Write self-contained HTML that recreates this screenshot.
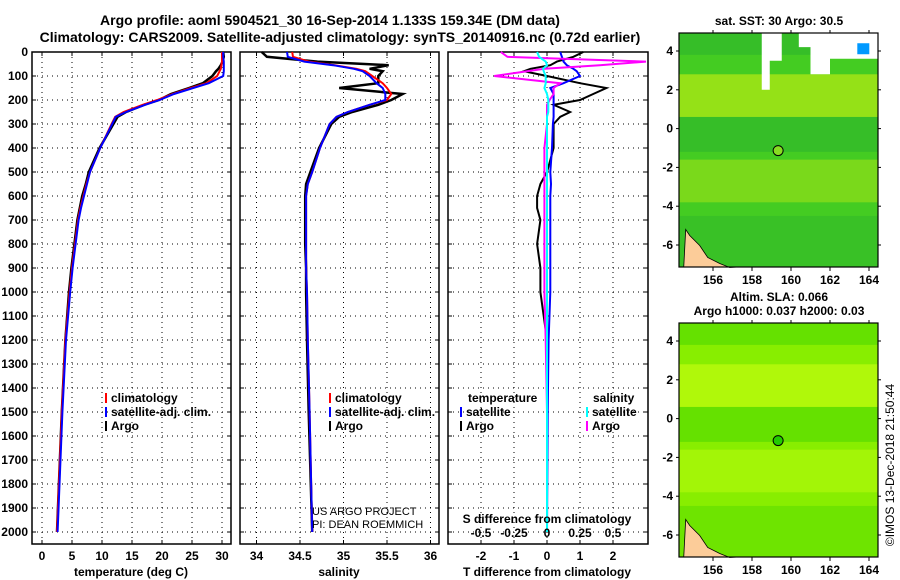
<!DOCTYPE html>
<html><head><meta charset="utf-8"><style>
html,body{margin:0;padding:0;background:#fff;}
svg{display:block;font-family:"Liberation Sans",Arial,sans-serif;font-weight:bold;}
</style></head><body>
<svg id="c" width="900" height="580" viewBox="0 0 900 580">
<text x="330" y="25" font-size="14" text-anchor="middle">Argo profile: aoml 5904521_30 16-Sep-2014 1.133S 159.34E (DM data)</text>
<text x="340" y="42" font-size="14" text-anchor="middle">Climatology: CARS2009. Satellite-adjusted climatology: synTS_20140916.nc (0.72d earlier)</text>
<g id="g"></g>
</svg>
<script>
const depth=[0,20,40,55,70,80,100,130,150,175,200,220,250,270,300,400,500,550,600,650,700,800,900,1000,1200,1500,2000];
const tempArgo=[30.2,30.3,30.1,29.8,29.4,29.0,28.4,26.8,24.5,21.5,19.5,17.0,14.0,12.6,11.9,9.6,7.8,7.3,6.7,6.3,5.9,5.4,4.9,4.5,3.9,3.3,2.5];
const tempClim=[30.0,30.0,30.0,29.9,29.8,29.6,29.2,27.4,24.8,21.8,19.2,16.8,13.6,12.2,11.6,9.7,8.0,7.4,6.9,6.4,6.0,5.5,5.0,4.6,3.9,3.3,2.5];
const tempSat=[30.2,30.2,30.3,30.3,30.3,30.3,30.2,27.8,25.2,22.0,19.6,17.2,14.0,12.3,11.7,9.7,8.0,7.5,7.0,6.5,6.1,5.6,5.1,4.7,4.0,3.4,2.6];
const salArgo=[34.06,34.12,34.70,35.52,35.30,35.45,35.40,35.40,34.95,35.68,35.55,35.40,35.10,34.95,34.86,34.72,34.62,34.57,34.56,34.56,34.56,34.56,34.57,34.57,34.58,34.60,34.64];
const salClim=[34.41,34.42,34.60,34.90,35.15,35.25,35.33,35.45,35.50,35.55,35.50,35.30,35.05,34.92,34.84,34.73,34.64,34.59,34.57,34.57,34.57,34.57,34.57,34.58,34.59,34.61,34.64];
const salSat=[34.35,34.36,34.55,34.88,35.12,35.22,35.30,35.38,35.45,35.48,35.48,35.30,35.05,34.92,34.84,34.73,34.64,34.59,34.57,34.57,34.57,34.57,34.57,34.58,34.59,34.61,34.64];
const tDiffSat=[0.4,0.45,0.5,0.6,0.8,0.9,1.0,0.5,0.1,0.2,0.2,0.2,0.2,0.2,0.18,0.15,0.1,0.12,0.1,0.1,0.1,0.1,0.1,0.1,0.05,0.02,0.0];
const tDiffArgo=[1.1,0.8,0.3,0.1,-0.5,-0.7,0.0,1.0,1.8,1.4,1.0,0.2,0.7,0.4,0.2,0.2,0.0,-0.2,-0.3,-0.3,-0.2,-0.3,-0.2,-0.2,0.0,0.0,0.0];
const sDiffSat=[-0.075,-0.06,-0.01,0.0,-0.03,-0.025,-0.01,-0.01,-0.02,0.0,0.01,0.01,0.01,0.0,0.0,0.0,0.0,0.0,0.0,0.0,0.0,0.0,0.0,0.0,0.0,0.0,0.0];
const sDiffArgo=[-0.35,-0.3,0.75,0.4,-0.02,-0.15,-0.4,0.1,0.05,0.05,0.02,0.0,0.0,0.0,0.0,-0.02,-0.02,-0.02,-0.02,-0.02,-0.02,-0.02,-0.02,-0.02,-0.01,0.0,0.0];
const depthTicks=[0,100,200,300,400,500,600,700,800,900,1000,1100,1200,1300,1400,1500,1600,1700,1800,1900,2000];
const tempTicks=[0,5,10,15,20,25,30];
const salTicks=[34,34.5,35,35.5,36];
const salTickLabels=["34","34.5","35","35.5","36"];
const tdTicks=[-2,-1,0,1,2];
const sdTicks=[-0.5,-0.25,0,0.25,0.5];
const sdLabels=["-0.5","-0.25","0","0.25","0.5"];
const lonTicks=[156,158,160,162,164];
const latTicks=[4,2,0,-2,-4,-6];
const floatLon=159.34, floatLat=-1.133;

const NS="http://www.w3.org/2000/svg";
const G=document.getElementById('g');
function mk(tag,attrs,parent,text){const e=document.createElementNS(NS,tag);for(const k in attrs)e.setAttribute(k,attrs[k]);if(text!==undefined)e.textContent=text;(parent||G).appendChild(e);return e;}
const yD=d=>52+d*0.24;
const PB=544;
const xT=t=>42+6*t;
const xS=s=>300+87*(s-34.5);
const xD=d=>547+33*d;
const xSD=s=>547+132*s;

function panel(name,x0,x1,xticksPx){
  const g=mk('g',{});
  
  
  xticksPx.forEach(x=>{mk('line',{x1:x,y1:52,x2:x,y2:PB,stroke:'#000','stroke-width':1,'stroke-dasharray':'1,4'},g);});
  depthTicks.forEach(d=>{const y=yD(d);mk('line',{x1:x0,y1:y,x2:x1,y2:y,stroke:'#000','stroke-width':1,'stroke-dasharray':'1,4'},g);
    mk('line',{x1:x0,y1:y,x2:x0+4,y2:y,stroke:'#000'},g);mk('line',{x1:x1-4,y1:y,x2:x1,y2:y,stroke:'#000'},g);});
  xticksPx.forEach(x=>{mk('line',{x1:x,y1:PB,x2:x,y2:PB-4,stroke:'#000'},g);mk('line',{x1:x,y1:52,x2:x,y2:56,stroke:'#000'},g);});
  mk('rect',{x:x0,y:52,width:x1-x0,height:PB-52,fill:'none',stroke:'#000','stroke-width':1.5},g);
  return g;
}
function line(g,xs,xf,color,name,w){
  const pts=depth.map((d,i)=>xf(xs[i]).toFixed(1)+','+yD(d).toFixed(1)).join(' ');
  const p=mk('polyline',{points:pts,fill:'none',stroke:color,'stroke-width':w||2},g);
  
  
}
depthTicks.forEach(d=>{const t=mk('text',{x:28,y:yD(d)+4,'font-size':12,'text-anchor':'end'},G,String(d));
  
  });

const p1=panel('temperature-panel',32,231,tempTicks.map(xT));
tempTicks.forEach(t=>{const e=mk('text',{x:xT(t),y:560,'font-size':12,'text-anchor':'middle'},G,String(t));
  
  });
line(p1,tempArgo,xT,'#000','temp-argo-line',2.5);
line(p1,tempClim,xT,'#f00','temp-clim-line');
line(p1,tempSat,xT,'#00f','temp-sat-line');
const p2=panel('salinity-panel',240,439,salTicks.map(xS));
salTicks.forEach((s,i)=>{const e=mk('text',{x:xS(s),y:560,'font-size':12,'text-anchor':'middle'},G,salTickLabels[i]);
  
  });
line(p2,salArgo,xS,'#000','sal-argo-line',2.5);
line(p2,salClim,xS,'#f00','sal-clim-line');
line(p2,salSat,xS,'#00f','sal-sat-line');
const p3=panel('difference-panel',448,648,tdTicks.map(xD));
tdTicks.forEach(t=>{const e=mk('text',{x:xD(t),y:560,'font-size':12,'text-anchor':'middle'},G,String(t));
  
  });
sdTicks.forEach((s,i)=>{const e=mk('text',{x:xSD(s),y:537,'font-size':12,'text-anchor':'middle'},G,sdLabels[i]);
  
  });
line(p3,tDiffArgo,xD,'#000','tdiff-argo-line');
line(p3,tDiffSat,xD,'#00f','tdiff-sat-line');
line(p3,sDiffArgo,xSD,'#f0f','sdiff-argo-line');
line(p3,sDiffSat,xSD,'#0ff','sdiff-sat-line');

function txt(x,y,s,name,size,anchor){const e=mk('text',{x:x,y:y,'font-size':size||12,'text-anchor':anchor||'start'},G,s);
  
  return e;}
txt(131,576,'temperature (deg C)','temp-axis-title',12,'middle');
txt(339,576,'salinity','sal-axis-title',12,'middle');
txt(547,576,'T difference from climatology','tdiff-axis-title',12,'middle');
txt(547,523,'S difference from climatology','sdiff-axis-title',12,'middle');
txt(312,515,'US ARGO PROJECT','credit-project',11).setAttribute('font-weight','normal');
txt(312,528,'PI: DEAN ROEMMICH','credit-pi',11).setAttribute('font-weight','normal');

function leg(x,y,color,label,name){const g=mk('g',{});
  
  
  mk('rect',{x:x,y:y-9,width:2,height:10,fill:color},g);mk('text',{x:x+6,y:y,'font-size':12},g,label);}
leg(105,402,'#f00','climatology','legend-clim');
leg(105,416,'#00f','satellite-adj. clim.','legend-sat');
leg(105,430,'#000','Argo','legend-argo');
leg(329,402,'#f00','climatology','legend2-clim');
leg(329,416,'#00f','satellite-adj. clim.','legend2-sat');
leg(329,430,'#000','Argo','legend2-argo');
txt(468,402,'temperature','legend3-temp-header',12);
txt(593,402,'salinity','legend3-sal-header',12);
leg(460,416,'#00f','satellite','legend3-tsat');
leg(460,430,'#000','Argo','legend3-targo');
leg(586,416,'#0ff','satellite','legend3-ssat');
leg(586,430,'#f0f','Argo','legend3-sargo');

const lonX=l=>713+19.5*(l-156);
function map(name,top,lat4y,pal,title1,title2){
  const g=mk('g',{});
  
  
  const latY=la=>lat4y+19.4*(4-la);
  const h=234;
  mk('rect',{x:679,y:top,width:199,height:h,fill:pal[0]},g);
  mk('rect',{x:679,y:latY(2.8),width:199,height:latY(0.6)-latY(2.8),fill:pal[1],opacity:0.6},g);
  mk('rect',{x:679,y:latY(-1.6),width:199,height:latY(-3.8)-latY(-1.6),fill:pal[1],opacity:0.4},g);
  mk('rect',{x:679,y:latY(0.6),width:199,height:latY(-1.2)-latY(0.6),fill:pal[2],opacity:0.4},g);
  mk('rect',{x:679,y:top,width:199,height:latY(3.8)-top,fill:pal[2],opacity:0.4},g);
  mk('rect',{x:679,y:latY(-4.5),width:199,height:top+h-latY(-4.5),fill:pal[2],opacity:0.3},g);
  if(pal[3]){
    mk('path',{d:`M${lonX(158.5)},${top} h20 v${latY(3.5)-top} h-12 v${latY(2)-latY(3.5)} h-8 z`,fill:'#fff'},g);
    mk('path',{d:`M${lonX(160.4)},${top} H878 V${latY(3.6)} H${lonX(162)} V${latY(2.8)} H${lonX(161)} V${latY(4.2)} H${lonX(160.4)} z`,fill:'#fff'},g);
    mk('rect',{x:lonX(163.4),y:latY(4.4),width:12,height:11,fill:'#0099ff'},g);
  }
  mk('path',{d:`M${lonX(154.6)},${latY(-5.2)} l4,6 l10,10 l8,12 l12,6 l10,4 L${lonX(157.3)},${top+h} L${lonX(154.5)},${top+h} z`,fill:'#fccc99',stroke:'#000','stroke-width':0.8},g);
  mk('circle',{cx:lonX(floatLon),cy:latY(floatLat),r:5,fill:pal[4],stroke:'#000','stroke-width':1},g);
  mk('rect',{x:679,y:top,width:199,height:h,fill:'none',stroke:'#000','stroke-width':1.2},g);
  lonTicks.forEach(l=>{mk('line',{x1:lonX(l),y1:top+h,x2:lonX(l),y2:top+h+4,stroke:'#000'},g);mk('line',{x1:lonX(l),y1:top,x2:lonX(l),y2:top-3,stroke:'#000'},g);
    mk('text',{x:lonX(l),y:top+h+17,'font-size':12,'text-anchor':'middle'},g,String(l));});
  latTicks.forEach(la=>{mk('line',{x1:676,y1:latY(la),x2:679,y2:latY(la),stroke:'#000'},g);mk('line',{x1:878,y1:latY(la),x2:881,y2:latY(la),stroke:'#000'},g);
    mk('text',{x:673,y:latY(la)+4,'font-size':12,'text-anchor':'end'},g,String(la));});
  mk('text',{x:779,y:top-8,'font-size':12,'text-anchor':'middle'},g,title1);
  if(title2)mk('text',{x:779,y:top-22,'font-size':12,'text-anchor':'middle'},g,title2);
}
map('sst-map',33,51,['#44cc22','#ccee11','#22aa33',true,'#88dd22'],'sat. SST: 30 Argo: 30.5');
map('sla-map',323,341,['#88ee00','#ccff11','#33cc00',false,'#22cc00'],'Argo h1000: 0.037 h2000: 0.03','Altim. SLA: 0.066');
const side=txt(0,0,'©IMOS 13-Dec-2018 21:50:44','imos-stamp',12,'middle');
side.setAttribute('font-weight','normal');
side.setAttribute('transform','translate(894,465) rotate(-90)');
</script>
</body></html>
